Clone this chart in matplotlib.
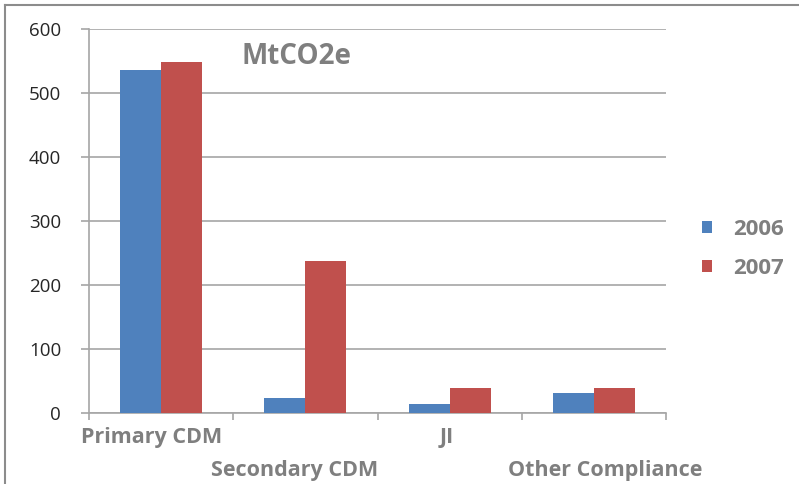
import matplotlib
matplotlib.use("Agg")
import matplotlib.pyplot as plt
from matplotlib.lines import Line2D
from matplotlib.transforms import ScaledTranslation
import numpy as np

categories = ["Primary CDM", "Secondary CDM", "JI", "Other Compliance"]
years = ["2006", "2007"]
values_2006 = [536, 23, 14, 31]
values_2007 = [548, 238, 39, 39]
y_ticks = [0, 100, 200, 300, 400, 500, 600]

BLUE = "#4F81BD"
RED = "#C0504D"
GREY_TEXT = "#7F7F7F"
GRID = "#A6A6A6"
FONT = "Open Sans"

W, H = 799, 484
fig = plt.figure(figsize=(W / 100, H / 100), dpi=100)
fig.patch.set_facecolor("white")

ax = fig.add_axes([89 / W, 1 - 413 / H, (666 - 89) / W, (413 - 29) / H])

centers = np.arange(len(categories)) + 0.5
bw = 0.285
b1 = ax.bar(centers - bw / 2, values_2006, width=bw, color=BLUE, label=years[0], zorder=3)
b2 = ax.bar(centers + bw / 2, values_2007, width=bw, color=RED, label=years[1], zorder=3)

ax.set_xlim(0, len(categories))
ax.set_ylim(0, 600)
ax.set_yticks(y_ticks)
ax.set_yticklabels([str(v) for v in y_ticks], fontfamily=FONT, fontsize=13.5, color="#262626")
ax.yaxis.grid(True, color=GRID, linewidth=1.2, zorder=0)
ax.tick_params(axis="y", length=6, width=1.2, color=GRID, pad=14)

# category labels staggered on two rows, tick marks at category boundaries
ax.set_xticks(centers)
ax.set_xticklabels(categories, fontfamily=FONT, fontsize=15.5, fontweight="bold", color=GREY_TEXT)
ax.tick_params(axis="x", which="major", length=0)
for i, tick in enumerate(ax.xaxis.get_major_ticks()):
    tick.set_pad(10 if i % 2 == 0 else 34)
label_shift_px = [-10, -11, -3, 11]
for lab, dx in zip(ax.get_xticklabels(), label_shift_px):
    lab.set_transform(lab.get_transform() + ScaledTranslation(dx / 100, 0, fig.dpi_scale_trans))
ax.set_xticks(np.arange(len(categories) + 1), minor=True)
ax.tick_params(axis="x", which="minor", length=5, width=1.2, color=GRID)

for side in ["top", "right"]:
    ax.spines[side].set_visible(False)
for side in ["left", "bottom"]:
    ax.spines[side].set_color(GRID)
    ax.spines[side].set_linewidth(1.2)

ax.text(297 / W, 1 - 57 / H, "MtCO2e", transform=fig.transFigure, ha="center", va="center",
        fontfamily=FONT, fontsize=20, fontweight="bold", color=GREY_TEXT)

leg = fig.legend(handles=[b1, b2], labels=years, loc="center left",
                 bbox_to_anchor=(682 / W, 1 - 249 / H), frameon=False,
                 handlelength=0.47, handleheight=0.47, handletextpad=0.95,
                 labelspacing=0.8, prop={"family": FONT, "size": 16, "weight": "bold"})
for t in leg.get_texts():
    t.set_color(GREY_TEXT)

# outer chart frame (top and left edges)
fig.add_artist(Line2D([5 / W, 1], [1 - 5 / H, 1 - 5 / H], transform=fig.transFigure,
                      color="#8C8C8C", linewidth=1.5))
fig.add_artist(Line2D([5 / W, 5 / W], [0, 1 - 5 / H], transform=fig.transFigure,
                      color="#8C8C8C", linewidth=1.5))

fig.savefig("out.png", dpi=100, facecolor="white")
